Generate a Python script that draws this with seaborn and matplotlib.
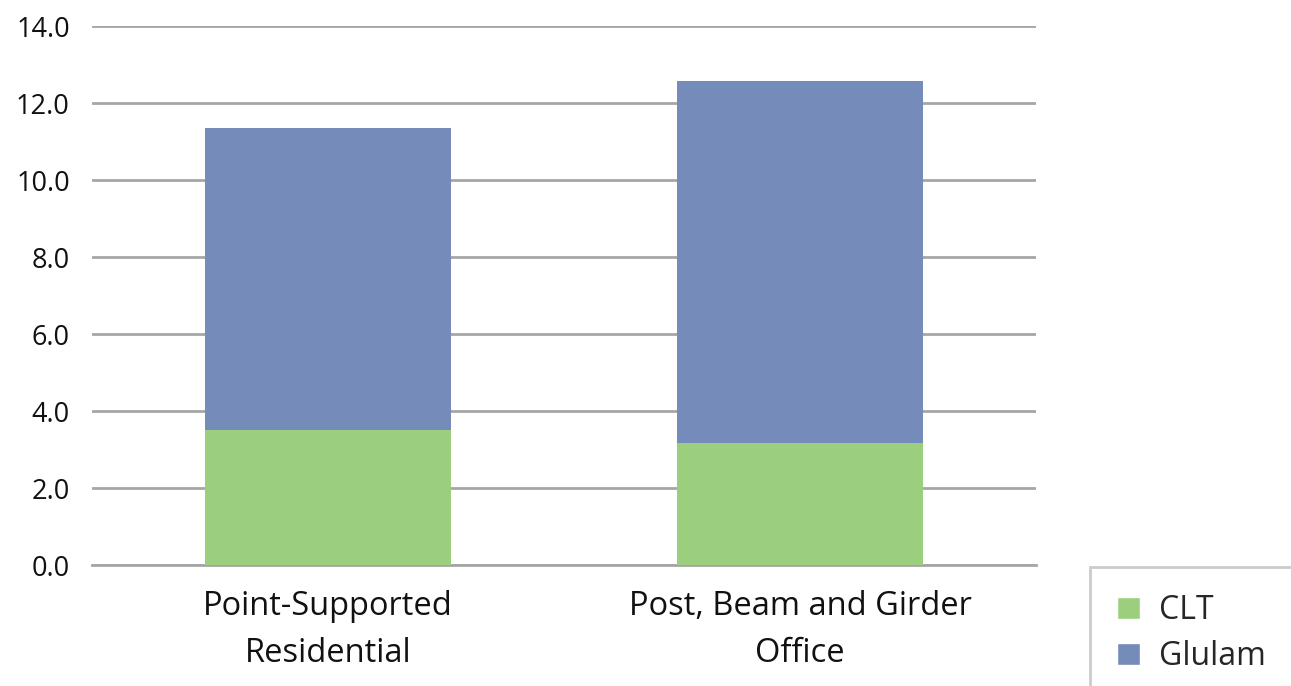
import pandas as pd
import matplotlib.pyplot as plt
import seaborn as sns
from matplotlib.patches import Patch

# Values
categories = ['Point-Supported\nResidential', 'Post, Beam and Girder\nOffice']
clt = [3.51, 3.17]
glulam = [7.84, 9.40]
y_ticks = [0, 2, 4, 6, 8, 10, 12, 14]

green = '#9BCF7D'
blue = '#758BBA'
grid_gray = '#A6A6A6'

sns.set_theme(style='white')
plt.rcParams['font.family'] = ['Open Sans', 'DejaVu Sans']

df = pd.DataFrame({'category': categories, 'CLT': clt, 'Glulam': glulam})
df['total'] = df['CLT'] + df['Glulam']

fig = plt.figure(figsize=(12.91, 6.86), dpi=100)
ax = fig.add_axes([0.0713, 0.176, 0.7312, 0.786])

# stacked bars: draw the full height in blue, then CLT in green on top
sns.barplot(data=df, x='category', y='total', color=blue, width=0.52,
            saturation=1, linewidth=0, ax=ax, zorder=3)
sns.barplot(data=df, x='category', y='CLT', color=green, width=0.52,
            saturation=1, linewidth=0, ax=ax, zorder=4)

ax.set_ylim(0, 14)
ax.set_xlim(-0.5, 1.5)
ax.set_yticks(y_ticks)
ax.set_yticklabels([f'{v:.1f}' for v in y_ticks])
ax.yaxis.grid(True, color=grid_gray, linewidth=2, zorder=0)
ax.set_axisbelow(True)
for side in ['left', 'right', 'top']:
    ax.spines[side].set_visible(False)
ax.spines['bottom'].set_color(grid_gray)
ax.spines['bottom'].set_linewidth(2)
ax.tick_params(axis='y', length=0, pad=16, labelsize=19.5, labelcolor='#111111')
ax.tick_params(axis='x', length=0, pad=18, labelsize=23.5, labelcolor='#111111')
for lbl in ax.get_xticklabels():
    lbl.set_linespacing(1.55)
ax.set_xlabel('')
ax.set_ylabel('')

handles = [Patch(facecolor=green, label='CLT'), Patch(facecolor=blue, label='Glulam')]
leg = fig.legend(handles=handles, loc='upper left', bbox_to_anchor=(0.8443, 0.1735),
                 fontsize=23, frameon=True, fancybox=False, handlelength=0.7,
                 handleheight=0.7, handletextpad=0.6, labelspacing=0.4,
                 borderpad=0.85, borderaxespad=0)
leg.get_frame().set_edgecolor('#BFBFBF')
leg.get_frame().set_linewidth(2)

plt.savefig('out.png', dpi=100)
